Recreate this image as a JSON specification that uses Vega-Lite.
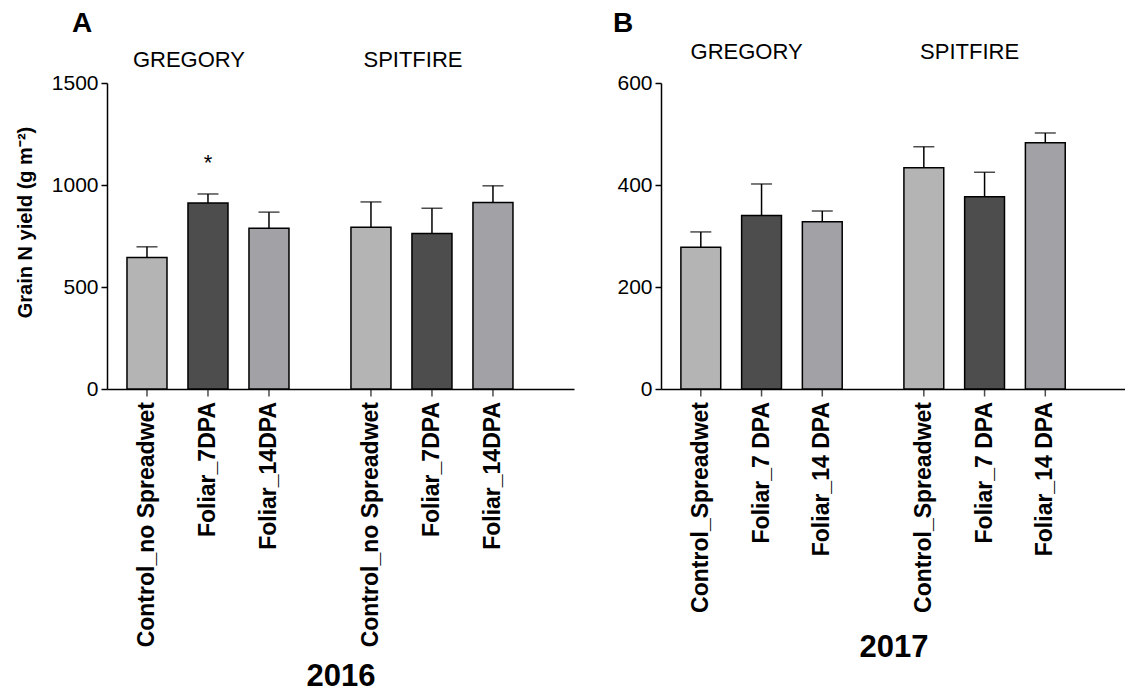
{
  "$schema": "https://vega.github.io/schema/vega-lite/v6.json",
  "background": "white",
  "padding": {"left": 15, "top": 10, "right": 0, "bottom": 0},
  "spacing": 39,
  "config": {
    "view": {"stroke": null},
    "font": "Liberation Sans",
    "axis": {"labelColor": "black", "titleColor": "black", "domainColor": "black", "tickColor": "black", "domainWidth": 1.5, "tickWidth": 1.5, "grid": false, "labelFont": "Liberation Sans", "titleFont": "Liberation Sans"}
  },
  "resolve": {"scale": {"x": "independent", "y": "independent", "xOffset": "independent", "color": "independent"}},
  "datasets": {
    "y2016": [
      {"variety": "GREGORY", "trt": "Control_no Spreadwet", "mean": 645, "upper": 697, "sig": ""},
      {"variety": "GREGORY", "trt": "Foliar_7DPA", "mean": 912, "upper": 956, "sig": "*"},
      {"variety": "GREGORY", "trt": "Foliar_14DPA", "mean": 788, "upper": 867, "sig": ""},
      {"variety": "SPITFIRE", "trt": "Control_no Spreadwet", "mean": 793, "upper": 917, "sig": ""},
      {"variety": "SPITFIRE", "trt": "Foliar_7DPA", "mean": 762, "upper": 886, "sig": ""},
      {"variety": "SPITFIRE", "trt": "Foliar_14DPA", "mean": 914, "upper": 996, "sig": ""}
    ],
    "y2017": [
      {"variety": "GREGORY", "trt": "Control_Spreadwet", "mean": 278, "upper": 308, "sig": ""},
      {"variety": "GREGORY", "trt": "Foliar_7 DPA", "mean": 340, "upper": 402, "sig": ""},
      {"variety": "GREGORY", "trt": "Foliar_14 DPA", "mean": 328, "upper": 349, "sig": ""},
      {"variety": "SPITFIRE", "trt": "Control_Spreadwet", "mean": 434, "upper": 475, "sig": ""},
      {"variety": "SPITFIRE", "trt": "Foliar_7 DPA", "mean": 377, "upper": 425, "sig": ""},
      {"variety": "SPITFIRE", "trt": "Foliar_14 DPA", "mean": 483, "upper": 502, "sig": ""}
    ]
  },
  "hconcat": [
    {
      "width": 467,
      "height": 306,
      "title": {"text": "A", "anchor": "start", "frame": "group", "fontSize": 28, "fontWeight": "bold", "dx": -35, "offset": 10, "color": "black"},
      "data": {"name": "y2016"},
      "layer": [
        {
          "mark": {"type": "tick", "orient": "vertical", "size": 15, "thickness": 1.5, "color": "black"},
          "encoding": {
            "x": {"field": "variety", "type": "nominal", "sort": null, "scale": {"paddingInner": 0.183, "paddingOuter": 0.134, "align": 0.158},
                  "axis": {"orient": "bottom", "labels": false, "ticks": false, "title": "2016", "titleFontSize": 31, "titleFontWeight": "bold", "titlePadding": 272}},
            "xOffset": {"field": "trt", "type": "nominal", "sort": null, "scale": {"paddingInner": 0.344, "paddingOuter": 0.172}},
            "y": {"datum": 0, "type": "quantitative", "scale": {"domain": [0, 1500], "nice": false}}
          }
        },
        {
          "mark": {"type": "bar", "stroke": "black", "strokeWidth": 1.5},
          "encoding": {
            "x": {"field": "variety", "type": "nominal", "sort": null,
                  "axis": {"orient": "top", "domain": false, "ticks": false, "tickSize": 0, "labelAngle": 0, "labelFontSize": 22, "labelPadding": 12, "labelOffset": -19, "title": null}},
            "xOffset": {"field": "trt", "type": "nominal", "sort": null},
            "y": {"field": "mean", "type": "quantitative",
                  "axis": {"values": [0, 500, 1000, 1500], "format": "d", "title": "Grain N yield (g m⁻²)", "titleFontSize": 20, "titleFontWeight": "bold", "titlePadding": 16, "titleY": 139, "labelFontSize": 21, "tickSize": 6, "labelPadding": 3}},
            "color": {"field": "trt", "type": "nominal", "legend": null,
                      "scale": {"domain": ["Control_no Spreadwet", "Foliar_7DPA", "Foliar_14DPA"], "range": ["#b4b4b4", "#4d4d4d", "#a1a1a6"]}}
          }
        },
        {
          "mark": {"type": "rule", "color": "black", "strokeWidth": 1.5},
          "encoding": {
            "x": {"field": "variety", "type": "nominal", "sort": null, "axis": null},
            "xOffset": {"field": "trt", "type": "nominal", "sort": null},
            "y": {"field": "mean", "type": "quantitative"},
            "y2": {"field": "upper"}
          }
        },
        {
          "mark": {"type": "tick", "orient": "horizontal", "size": 21, "thickness": 1.5, "color": "black"},
          "encoding": {
            "x": {"field": "variety", "type": "nominal", "sort": null, "axis": null},
            "xOffset": {"field": "trt", "type": "nominal", "sort": null},
            "y": {"field": "upper", "type": "quantitative"}
          }
        },
        {
          "mark": {"type": "text", "angle": 270, "align": "right", "baseline": "middle", "dx": -13, "fontSize": 23, "fontWeight": "bold", "color": "black"},
          "encoding": {
            "x": {"field": "variety", "type": "nominal", "sort": null, "axis": null},
            "xOffset": {"field": "trt", "type": "nominal", "sort": null},
            "y": {"datum": 0, "type": "quantitative"},
            "text": {"field": "trt"}
          }
        },
        {
          "transform": [{"filter": "datum.sig != ''"}],
          "mark": {"type": "text", "baseline": "alphabetic", "dy": -24, "fontSize": 22, "color": "black"},
          "encoding": {
            "x": {"field": "variety", "type": "nominal", "sort": null, "axis": null},
            "xOffset": {"field": "trt", "type": "nominal", "sort": null},
            "y": {"field": "upper", "type": "quantitative"},
            "text": {"field": "sig"}
          }
        }
      ]
    },
    {
      "width": 465,
      "height": 306,
      "title": {"text": "B", "anchor": "start", "frame": "group", "fontSize": 28, "fontWeight": "bold", "dx": -48, "offset": 2, "color": "black"},
      "data": {"name": "y2017"},
      "layer": [
        {
          "mark": {"type": "tick", "orient": "vertical", "size": 15, "thickness": 1.5, "color": "black"},
          "encoding": {
            "x": {"field": "variety", "type": "nominal", "sort": null, "scale": {"paddingInner": 0.183, "paddingOuter": 0.134, "align": 0.158},
                  "axis": {"orient": "bottom", "labels": false, "ticks": false, "title": "2017", "titleFontSize": 31, "titleFontWeight": "bold", "titlePadding": 243}},
            "xOffset": {"field": "trt", "type": "nominal", "sort": null, "scale": {"paddingInner": 0.344, "paddingOuter": 0.172}},
            "y": {"datum": 0, "type": "quantitative", "scale": {"domain": [0, 600], "nice": false}}
          }
        },
        {
          "mark": {"type": "bar", "stroke": "black", "strokeWidth": 1.5},
          "encoding": {
            "x": {"field": "variety", "type": "nominal", "sort": null,
                  "axis": {"orient": "top", "domain": false, "ticks": false, "tickSize": 0, "labelAngle": 0, "labelFontSize": 22, "labelPadding": 20, "labelOffset": -15, "title": null}},
            "xOffset": {"field": "trt", "type": "nominal", "sort": null},
            "y": {"field": "mean", "type": "quantitative",
                  "axis": {"values": [0, 200, 400, 600], "format": "d", "title": null, "labelFontSize": 21, "tickSize": 6, "labelPadding": 3}},
            "color": {"field": "trt", "type": "nominal", "legend": null,
                      "scale": {"domain": ["Control_Spreadwet", "Foliar_7 DPA", "Foliar_14 DPA"], "range": ["#b4b4b4", "#4d4d4d", "#a1a1a6"]}}
          }
        },
        {
          "mark": {"type": "rule", "color": "black", "strokeWidth": 1.5},
          "encoding": {
            "x": {"field": "variety", "type": "nominal", "sort": null, "axis": null},
            "xOffset": {"field": "trt", "type": "nominal", "sort": null},
            "y": {"field": "mean", "type": "quantitative"},
            "y2": {"field": "upper"}
          }
        },
        {
          "mark": {"type": "tick", "orient": "horizontal", "size": 21, "thickness": 1.5, "color": "black"},
          "encoding": {
            "x": {"field": "variety", "type": "nominal", "sort": null, "axis": null},
            "xOffset": {"field": "trt", "type": "nominal", "sort": null},
            "y": {"field": "upper", "type": "quantitative"}
          }
        },
        {
          "mark": {"type": "text", "angle": 270, "align": "right", "baseline": "middle", "dx": -13, "fontSize": 23, "fontWeight": "bold", "color": "black"},
          "encoding": {
            "x": {"field": "variety", "type": "nominal", "sort": null, "axis": null},
            "xOffset": {"field": "trt", "type": "nominal", "sort": null},
            "y": {"datum": 0, "type": "quantitative"},
            "text": {"field": "trt"}
          }
        }
      ]
    }
  ]
}
